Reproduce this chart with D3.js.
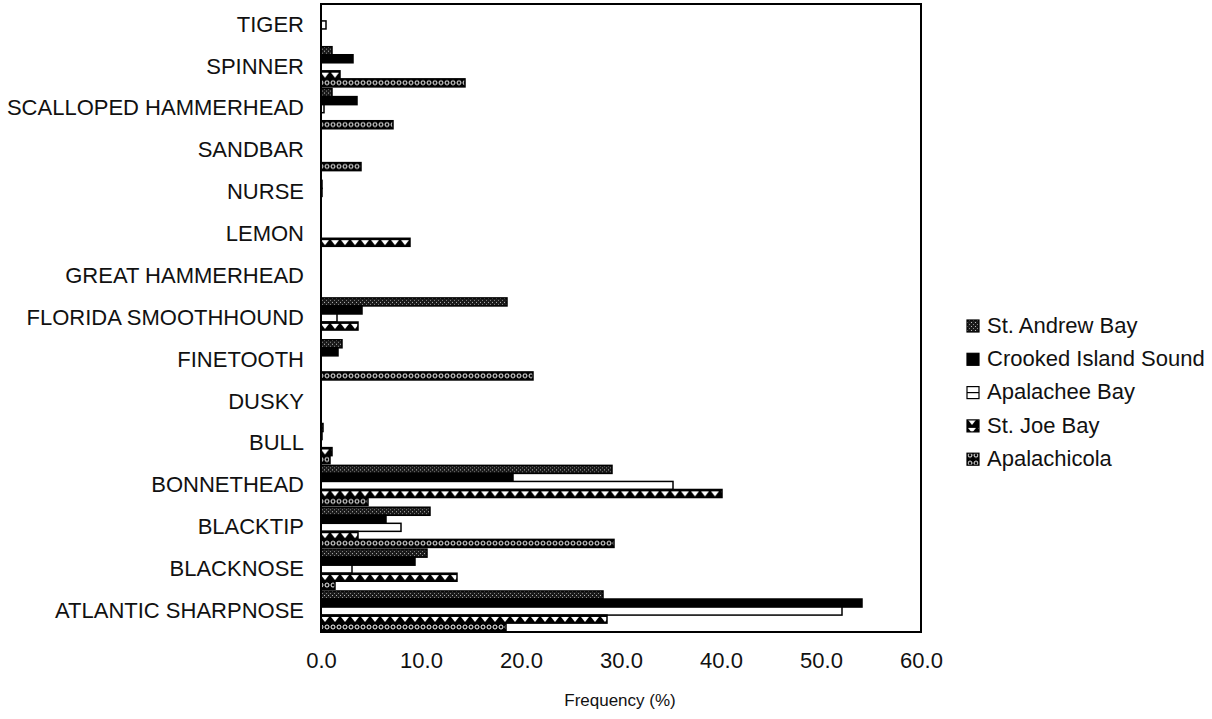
<!DOCTYPE html>
<html>
<head>
<meta charset="utf-8">
<script src="https://cdn.jsdelivr.net/npm/d3@7"></script>
<style>
  body { margin: 0; background: #fff; }
  svg { font-family: 'Liberation Sans', Arial, sans-serif; }
</style>
</head>
<body>
<div id="chart"></div>
<script>
// categories, top to bottom as drawn
const categories = [
  'TIGER', 'SPINNER', 'SCALLOPED HAMMERHEAD', 'SANDBAR', 'NURSE', 'LEMON',
  'GREAT HAMMERHEAD', 'FLORIDA SMOOTHHOUND', 'FINETOOTH', 'DUSKY', 'BULL',
  'BONNETHEAD', 'BLACKTIP', 'BLACKNOSE', 'ATLANTIC SHARPNOSE'
]
const seriesNames = ['St. Andrew Bay', 'Crooked Island Sound', 'Apalachee Bay', 'St. Joe Bay', 'Apalachicola']

// frequency (%) per series, same order as categories
const stAndrewBay = [0, 1.1, 1.1, 0, 0, 0, 0, 18.6, 2.1, 0, 0.2, 29.1, 10.9, 10.6, 28.2]
const crookedIsland = [0, 3.2, 3.6, 0, 0.1, 0, 0, 4.1, 1.7, 0, 0.1, 19.2, 6.5, 9.4, 54.1]
const apalacheeBay = [0.5, 0, 0.3, 0, 0.1, 0, 0, 1.6, 0, 0, 0, 35.2, 8.0, 3.1, 52.1]
const stJoeBay = [0, 1.9, 0, 0, 0, 8.9, 0, 3.7, 0, 0, 1.1, 40.1, 3.7, 13.6, 28.6]
const apalachicola = [0, 14.4, 7.2, 4.0, 0, 0, 0, 0, 21.2, 0, 0.9, 4.7, 29.3, 1.4, 18.5]

const xTicks = [0, 10, 20, 30, 40, 50, 60]

const seriesValues = [stAndrewBay, crookedIsland, apalacheeBay, stJoeBay, apalachicola]
const fills = ['url(#p-andrew)', '#000', '#fff', 'url(#p-joe)', 'url(#p-apalachicola)']

const width = 1212
const height = 719
const plot = { left: 321, right: 921, top: 4, bottom: 632 }

const svg = d3.select('#chart').append('svg')
  .attr('width', width)
  .attr('height', height)

/**
 * Defines the hatch patterns used by the bars and the legend.
 *
 * @param {*} svg The d3 Selection of the svg
 */
function definePatterns (svg) {
  const defs = svg.append('defs')

  const andrew = defs.append('pattern')
    .attr('id', 'p-andrew')
    .attr('patternUnits', 'userSpaceOnUse')
    .attr('width', 4)
    .attr('height', 4)
  andrew.append('rect').attr('width', 4).attr('height', 4).attr('fill', '#1a1a1a')
  andrew.append('rect').attr('x', 0).attr('y', 0).attr('width', 1).attr('height', 1).attr('fill', '#bbb')
  andrew.append('rect').attr('x', 2).attr('y', 2).attr('width', 1).attr('height', 1).attr('fill', '#888')

  const joe = defs.append('pattern')
    .attr('id', 'p-joe')
    .attr('patternUnits', 'userSpaceOnUse')
    .attr('width', 10)
    .attr('height', 8)
  joe.append('rect').attr('width', 10).attr('height', 8).attr('fill', '#000')
  joe.append('path').attr('d', 'M1,2 L9,2 L5,7 Z').attr('fill', '#fff')

  const apal = defs.append('pattern')
    .attr('id', 'p-apalachicola')
    .attr('patternUnits', 'userSpaceOnUse')
    .attr('width', 6)
    .attr('height', 8)
  apal.append('rect').attr('width', 6).attr('height', 8).attr('fill', '#000')
  apal.append('circle').attr('cx', 3).attr('cy', 4).attr('r', 2)
    .attr('fill', 'none').attr('stroke', '#fff').attr('stroke-width', 1)
}

definePatterns(svg)

const x = d3.scaleLinear()
  .domain([0, 60])
  .range([plot.left, plot.right])

const y0 = d3.scaleBand()
  .domain(categories)
  .range([plot.top, plot.bottom])
  .paddingInner(0.04)
  .paddingOuter(0.02)

const y1 = d3.scaleBand()
  .domain(d3.range(seriesNames.length))
  .range([0, y0.bandwidth()])

// bars
const groups = svg.append('g')
  .selectAll('g')
  .data(categories)
  .enter()
  .append('g')
  .attr('transform', (d) => 'translate(0,' + y0(d) + ')')

groups.selectAll('rect')
  .data((d, i) => seriesValues.map((s, j) => ({ series: j, value: s[i] })))
  .enter()
  .filter((d) => d.value > 0)
  .append('rect')
  .attr('x', x(0))
  .attr('y', (d) => y1(d.series))
  .attr('width', (d) => x(d.value) - x(0))
  .attr('height', y1.bandwidth())
  .attr('fill', (d) => fills[d.series])
  .attr('stroke', '#000')
  .attr('stroke-width', 1.5)

// plot frame
svg.append('rect')
  .attr('x', plot.left)
  .attr('y', plot.top)
  .attr('width', plot.right - plot.left)
  .attr('height', plot.bottom - plot.top)
  .attr('fill', 'none')
  .attr('stroke', '#000')
  .attr('stroke-width', 2)

// category labels
svg.append('g')
  .selectAll('text')
  .data(categories)
  .enter()
  .append('text')
  .attr('x', 304)
  .attr('y', (d) => y0(d) + y0.bandwidth() / 2 + 1)
  .attr('text-anchor', 'end')
  .attr('dominant-baseline', 'middle')
  .attr('font-size', 22)
  .attr('fill', '#111')
  .text((d) => d)

// x axis labels
const xAxis = d3.axisBottom(x)
  .tickValues(xTicks)
  .tickFormat(d3.format('.1f'))
  .tickSize(0)
  .tickPadding(20)

const axisG = svg.append('g')
  .attr('transform', 'translate(0,' + plot.bottom + ')')
  .call(xAxis)
axisG.select('.domain').remove()
axisG.selectAll('text')
  .attr('font-size', 22)
  .attr('font-family', 'Liberation Sans, Arial, sans-serif')
  .attr('fill', '#111')

svg.append('text')
  .attr('x', 620)
  .attr('y', 706)
  .attr('text-anchor', 'middle')
  .attr('font-size', 17)
  .attr('fill', '#111')
  .text('Frequency (%)')

// legend
const legend = svg.append('g')
  .attr('transform', 'translate(967,326)')

const items = legend.selectAll('g')
  .data(seriesNames)
  .enter()
  .append('g')
  .attr('transform', (d, i) => 'translate(0,' + (i * 33.3) + ')')

items.append('rect')
  .attr('x', 0)
  .attr('y', -6)
  .attr('width', 12)
  .attr('height', 12)
  .attr('fill', (d, i) => fills[i])
  .attr('stroke', '#000')
  .attr('stroke-width', 1.2)

items.filter((d, i) => i === 2)
  .append('line')
  .attr('x1', 0)
  .attr('x2', 12)
  .attr('y1', 0)
  .attr('y2', 0)
  .attr('stroke', '#000')
  .attr('stroke-width', 1.2)

items.append('text')
  .attr('x', 20)
  .attr('y', 1)
  .attr('dominant-baseline', 'middle')
  .attr('font-size', 22)
  .attr('fill', '#111')
  .text((d) => d)
</script>
</body>
</html>
